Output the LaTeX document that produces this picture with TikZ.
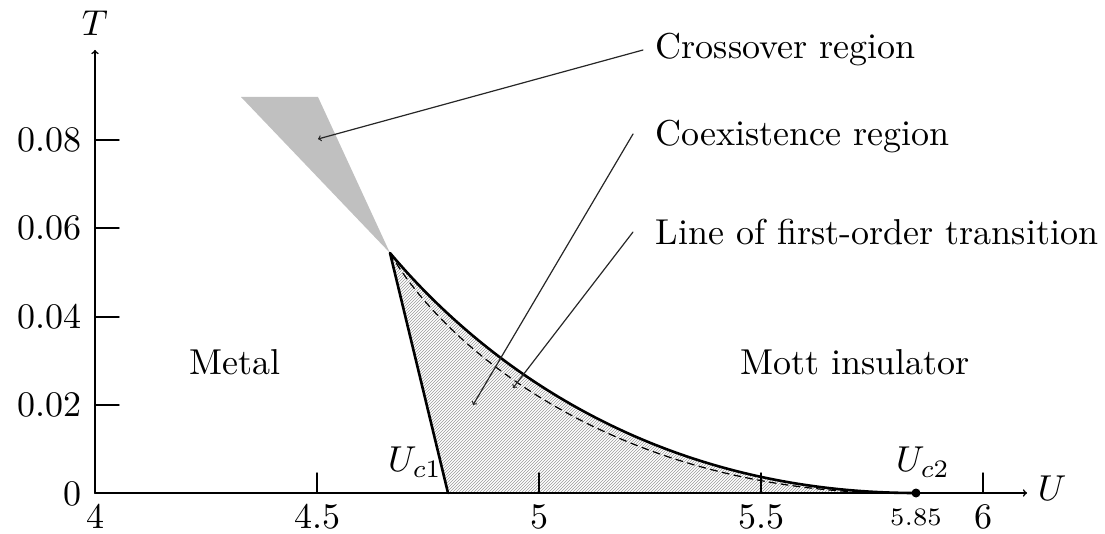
\documentclass[tikz,border=0pt]{standalone}
\usetikzlibrary{patterns}
\definecolor{phaseGray}{HTML}{C0C0C0}
\definecolor{hatchGray}{HTML}{9A9A9A}

\begin{document}
\begin{tikzpicture}[x=1pt,y=-1pt,>=to,line cap=round,line join=round,
  every node/.style={scale=3.6,transform shape}]
\useasboundingbox (0,0) rectangle (1105,534);
\tikzset{axis/.style={draw=black,line width=1.6pt},tick/.style={draw=black,line width=1.4pt},
  border/.style={draw=black,line width=2.6pt},pointer/.style={draw=black!85,line width=1.2pt,->},
  ticklabel/.style={inner sep=0.6pt}}
% crossover wedge above the critical point
\path[fill=phaseGray] (241,97) -- (318,97) -- (390,253) -- cycle;
% coexistence region
\path[pattern=north east lines,pattern color=hatchGray] (390,253) -- (448,493) -- (916,493)
  .. controls (650,493) and (480,360) .. (390,253);
% axes
\draw[axis,->] (95,493) -- (1027,493);
\draw[axis,->] (95,493) -- (95,50);
\node (tAxis) at (95,23) {$T$};
\node (uAxis) at (1052,488) {$U$};
\foreach \u/\x in {4/95,4.5/317,5/539,5.5/761,6/983}{
  \draw[tick] (\x,493) -- (\x,473);
  \node[ticklabel] at (\x,517) {$\u$};
}
\foreach \t/\y in {0.02/405,0.04/317,0.06/228,0.08/140}{
  \draw[tick] (95,\y) -- (119,\y);
  \node[ticklabel,anchor=east] at (84,\y) {$\t$};
}
\node[ticklabel,anchor=east] at (84,494) {$0$};
% phase boundaries
\coordinate (crit) at (390,253);
\coordinate (uc1) at (448,493);
\coordinate (uc2) at (916,493);
\draw[border] (uc1) -- (crit) .. controls (480,360) and (650,493) .. (uc2);
\draw[line width=1.2pt,dash pattern=on 7pt off 5pt] (crit) .. controls (440,340) and (600,485) .. (880,493);
\fill (uc2) circle (4.5pt);
\node (uca) at (415,462) {$U_{c1}$};
\node (ucb) at (923,462) {$U_{c2}$};
\node[font=\scriptsize] (ucval) at (916,517) {$5.85$};
% region names
\node (metal) at (235,362) {Metal};
\node (mott) at (855,362) {Mott insulator};
% callouts
\node[anchor=west] (xover) at (643,50) {Crossover region};
\node[anchor=west] (coex) at (643,137) {Coexistence region};
\node[anchor=west] (first) at (643,232) {Line of first-order transition};
\coordinate (xoverTip) at (318,139);
\coordinate (coexTip) at (473,405);
\coordinate (firstTip) at (513,388);
\draw[pointer] (xover.west) -- (xoverTip);
\draw[pointer] ([xshift=-10pt,yshift=3pt]coex.west) -- (coexTip);
\draw[pointer] ([xshift=-10pt]first.west) -- (firstTip);
\end{tikzpicture}
\end{document}
